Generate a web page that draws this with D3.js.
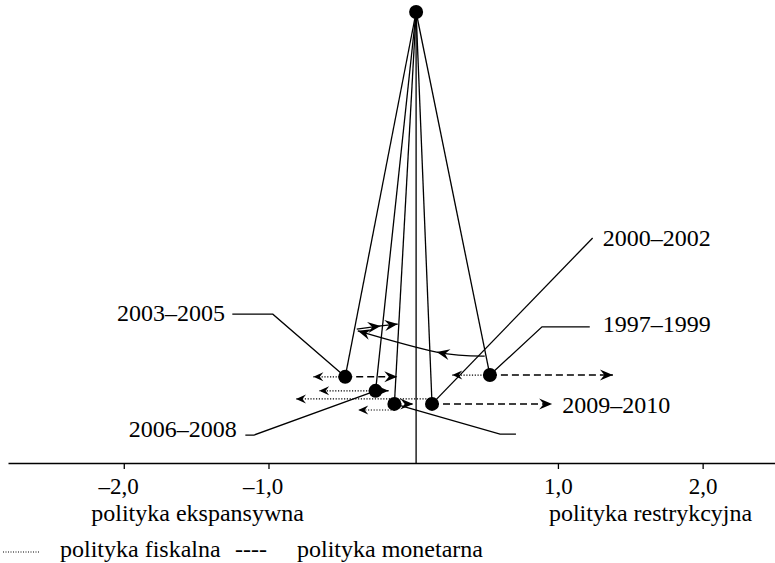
<!DOCTYPE html>
<html>
<head>
<meta charset="utf-8">
<script src="https://cdn.jsdelivr.net/npm/d3@7"></script>
<style>
  body { margin: 0; background: #fff; }
  svg { display: block; }
  text { font-family: 'Liberation Serif', 'Times New Roman', serif; font-size: 24px; fill: #000; }
</style>
</head>
<body>
<svg id="chart" width="775" height="563"></svg>
<script>
// policy stance, axis in "units", vertical level is just layout (0 = axis, 100 = top node)
const axisTicks = [-2, -1, 1, 2]
const axisNotes = ['polityka ekspansywna', 'polityka restrykcyjna']
const axisNoteX = [-1.49, 1.64]

const periods = ['1997–1999', '2000–2002', '2003–2005', '2006–2008', '2009–2010']
const stanceX = [0.53, 0.13, -0.47, -0.26, -0.13]
const stanceLevel = [19.5, 13.1, 19.1, 16.0, 13.1]
const fiscalTo = [0.27, -0.81, -0.69, -0.65, -0.38]
const fiscalLevel = [19.5, 14.2, 19.1, 16.0, 11.75]
const monetaryTo = [1.38, 0.96, -0.11, -0.17, 0.0]

const origin = [0.02, 100]

// label anchor + leader polyline (label end -> point)
const labelX = [1.31, 1.31, -1.30, -1.22, 1.03]
const labelLevel = [29.0, 48.1, 31.5, 5.8, 11.1]
const labelAnchor = ['start', 'start', 'end', 'end', 'start']
const leaders = [
    [[1.22, 30.2], [0.89, 30.2]],
    [[1.24, 49.9]],
    [[-1.25, 33.0], [-0.97, 33.0]],
    [[-1.16, 6.2], [-1.10, 6.2]],
    [[0.71, 6.4], [0.60, 6.4]]
]

// solid arrows between periods
const shiftA = [[-0.39, 29.7], [-0.225, 30.4], [-0.107, 30.8]]
const shiftB = [[0.494, 23.7], [0.162, 24.6], [-0.383, 29.3]]

const legendItems = ['polityka fiskalna', 'polityka monetarna']

const svg = d3.select('#chart')
    .style('font-family', "'Liberation Serif', 'Times New Roman', serif")
const x = d3.scaleLinear().domain([-2.8, 2.5]).range([8, 775])
const y = d3.scaleLinear().domain([0, 100]).range([463, 12])
const line = d3.line().x(d => x(d[0])).y(d => y(d[1]))

const defs = svg.append('defs')
function addHead(id, len, half, notch) {
    defs.append('marker')
        .attr('id', id)
        .attr('markerUnits', 'userSpaceOnUse')
        .attr('viewBox', `${-len - 1} ${-half - 1} ${len + 2} ${2 * half + 2}`)
        .attr('markerWidth', len + 2)
        .attr('markerHeight', 2 * half + 2)
        .attr('refX', 0)
        .attr('refY', 0)
        .attr('orient', 'auto')
        .append('path')
        .attr('d', `M0,0L${-len},${-half}L${-len + notch},0L${-len},${half}Z`)
        .attr('fill', '#000')
        .attr('stroke', 'none')
}
addHead('head', 13, 5.5, 4.5)
addHead('headSmall', 10, 4.5, 3.5)

const stance = periods.map((p, i) => ({
    period: p, x: stanceX[i], level: stanceLevel[i],
    fx: fiscalTo[i], flevel: fiscalLevel[i], mx: monetaryTo[i],
    lx: labelX[i], llevel: labelLevel[i], anchor: labelAnchor[i],
    leader: leaders[i].concat([[stanceX[i], stanceLevel[i]]])
}))

// axis
const axis = svg.append('g')
    .attr('transform', `translate(0,${y(0)})`)
    .call(d3.axisBottom(x)
        .tickValues(axisTicks)
        .tickSize(6)
        .tickSizeOuter(0)
        .tickPadding(11)
        .tickFormat(d => (d < 0 ? '–' : '') + Math.abs(d).toFixed(1).replace('.', ',')))
axis.attr('font-size', null).attr('font-family', null)
axis.select('.domain').attr('stroke-width', 1.5)
axis.selectAll('.tick line').attr('stroke-width', 1.3)
axis.selectAll('.tick text')
    .style('font-size', '23px')
    .attr('dy', '0.62em')
    .attr('dx', d => d < 0 ? '-0.25em' : 0)

svg.selectAll('.note')
    .data(axisNotes)
    .join('text')
    .attr('class', 'note')
    .attr('x', (d, i) => x(axisNoteX[i]))
    .attr('y', y(0) + 58)
    .attr('text-anchor', 'middle')
    .text(d => d)

// vertical line and spokes from the top node
svg.append('line')
    .attr('x1', x(origin[0])).attr('y1', y(origin[1]))
    .attr('x2', x(origin[0])).attr('y2', y(0))
    .attr('stroke', '#000').attr('stroke-width', 1.3)

svg.selectAll('.spoke')
    .data(stance)
    .join('line')
    .attr('class', 'spoke')
    .attr('x1', x(origin[0])).attr('y1', y(origin[1]))
    .attr('x2', d => x(d.x)).attr('y2', d => y(d.level))
    .attr('stroke', '#000').attr('stroke-width', 1.3)

// leaders
svg.selectAll('.leader')
    .data(stance)
    .join('path')
    .attr('class', 'leader')
    .attr('d', d => line(d.leader))
    .attr('fill', 'none').attr('stroke', '#000').attr('stroke-width', 1.3)

// fiscal (dotted) and monetary (dashed)
svg.selectAll('.fiscal')
    .data(stance)
    .join('line')
    .attr('class', 'fiscal')
    .attr('x1', d => x(d.x)).attr('y1', d => y(d.flevel))
    .attr('x2', d => x(d.fx)).attr('y2', d => y(d.flevel))
    .attr('stroke', '#000').attr('stroke-width', 1.2)
    .attr('stroke-dasharray', '1.2,1.6')
    .attr('marker-end', 'url(#headSmall)')

svg.selectAll('.monetary')
    .data(stance)
    .join('line')
    .attr('class', 'monetary')
    .attr('x1', d => x(d.x)).attr('y1', d => y(d.level))
    .attr('x2', d => x(d.mx)).attr('y2', d => y(d.level))
    .attr('stroke', '#000').attr('stroke-width', 1.5)
    .attr('stroke-dasharray', '7,4')
    .attr('marker-end', 'url(#head)')

// shifts
svg.append('path')
    .attr('d', line(shiftA))
    .attr('fill', 'none').attr('stroke', '#000').attr('stroke-width', 1.3)
    .attr('marker-mid', 'url(#head)').attr('marker-end', 'url(#head)')
svg.append('path')
    .attr('d', line.curve(d3.curveNatural)(shiftB))
    .attr('fill', 'none').attr('stroke', '#000').attr('stroke-width', 1.3)
    .attr('marker-mid', 'url(#head)').attr('marker-end', 'url(#head)')
line.curve(d3.curveLinear)

// nodes
svg.selectAll('.node')
    .data(stance)
    .join('circle')
    .attr('class', 'node')
    .attr('cx', d => x(d.x)).attr('cy', d => y(d.level))
    .attr('r', 7).attr('fill', '#000')
svg.append('circle')
    .attr('cx', x(origin[0])).attr('cy', y(origin[1]))
    .attr('r', 7).attr('fill', '#000')

svg.selectAll('.label')
    .data(stance)
    .join('text')
    .attr('class', 'label')
    .attr('x', d => x(d.lx)).attr('y', d => y(d.llevel))
    .attr('text-anchor', d => d.anchor)
    .text(d => d.period)

// legend
const lg = svg.append('g').attr('transform', 'translate(0,557)')
lg.append('line')
    .attr('x1', 3).attr('x2', 39).attr('y1', -5).attr('y2', -5)
    .attr('stroke', '#000').attr('stroke-width', 1).attr('stroke-dasharray', '1,1.5')
lg.append('text').attr('x', 235).text('----')
lg.selectAll('.leg')
    .data(legendItems)
    .join('text')
    .attr('class', 'leg')
    .attr('x', (d, i) => [60, 297][i])
    .text(d => d)
</script>
</body>
</html>
